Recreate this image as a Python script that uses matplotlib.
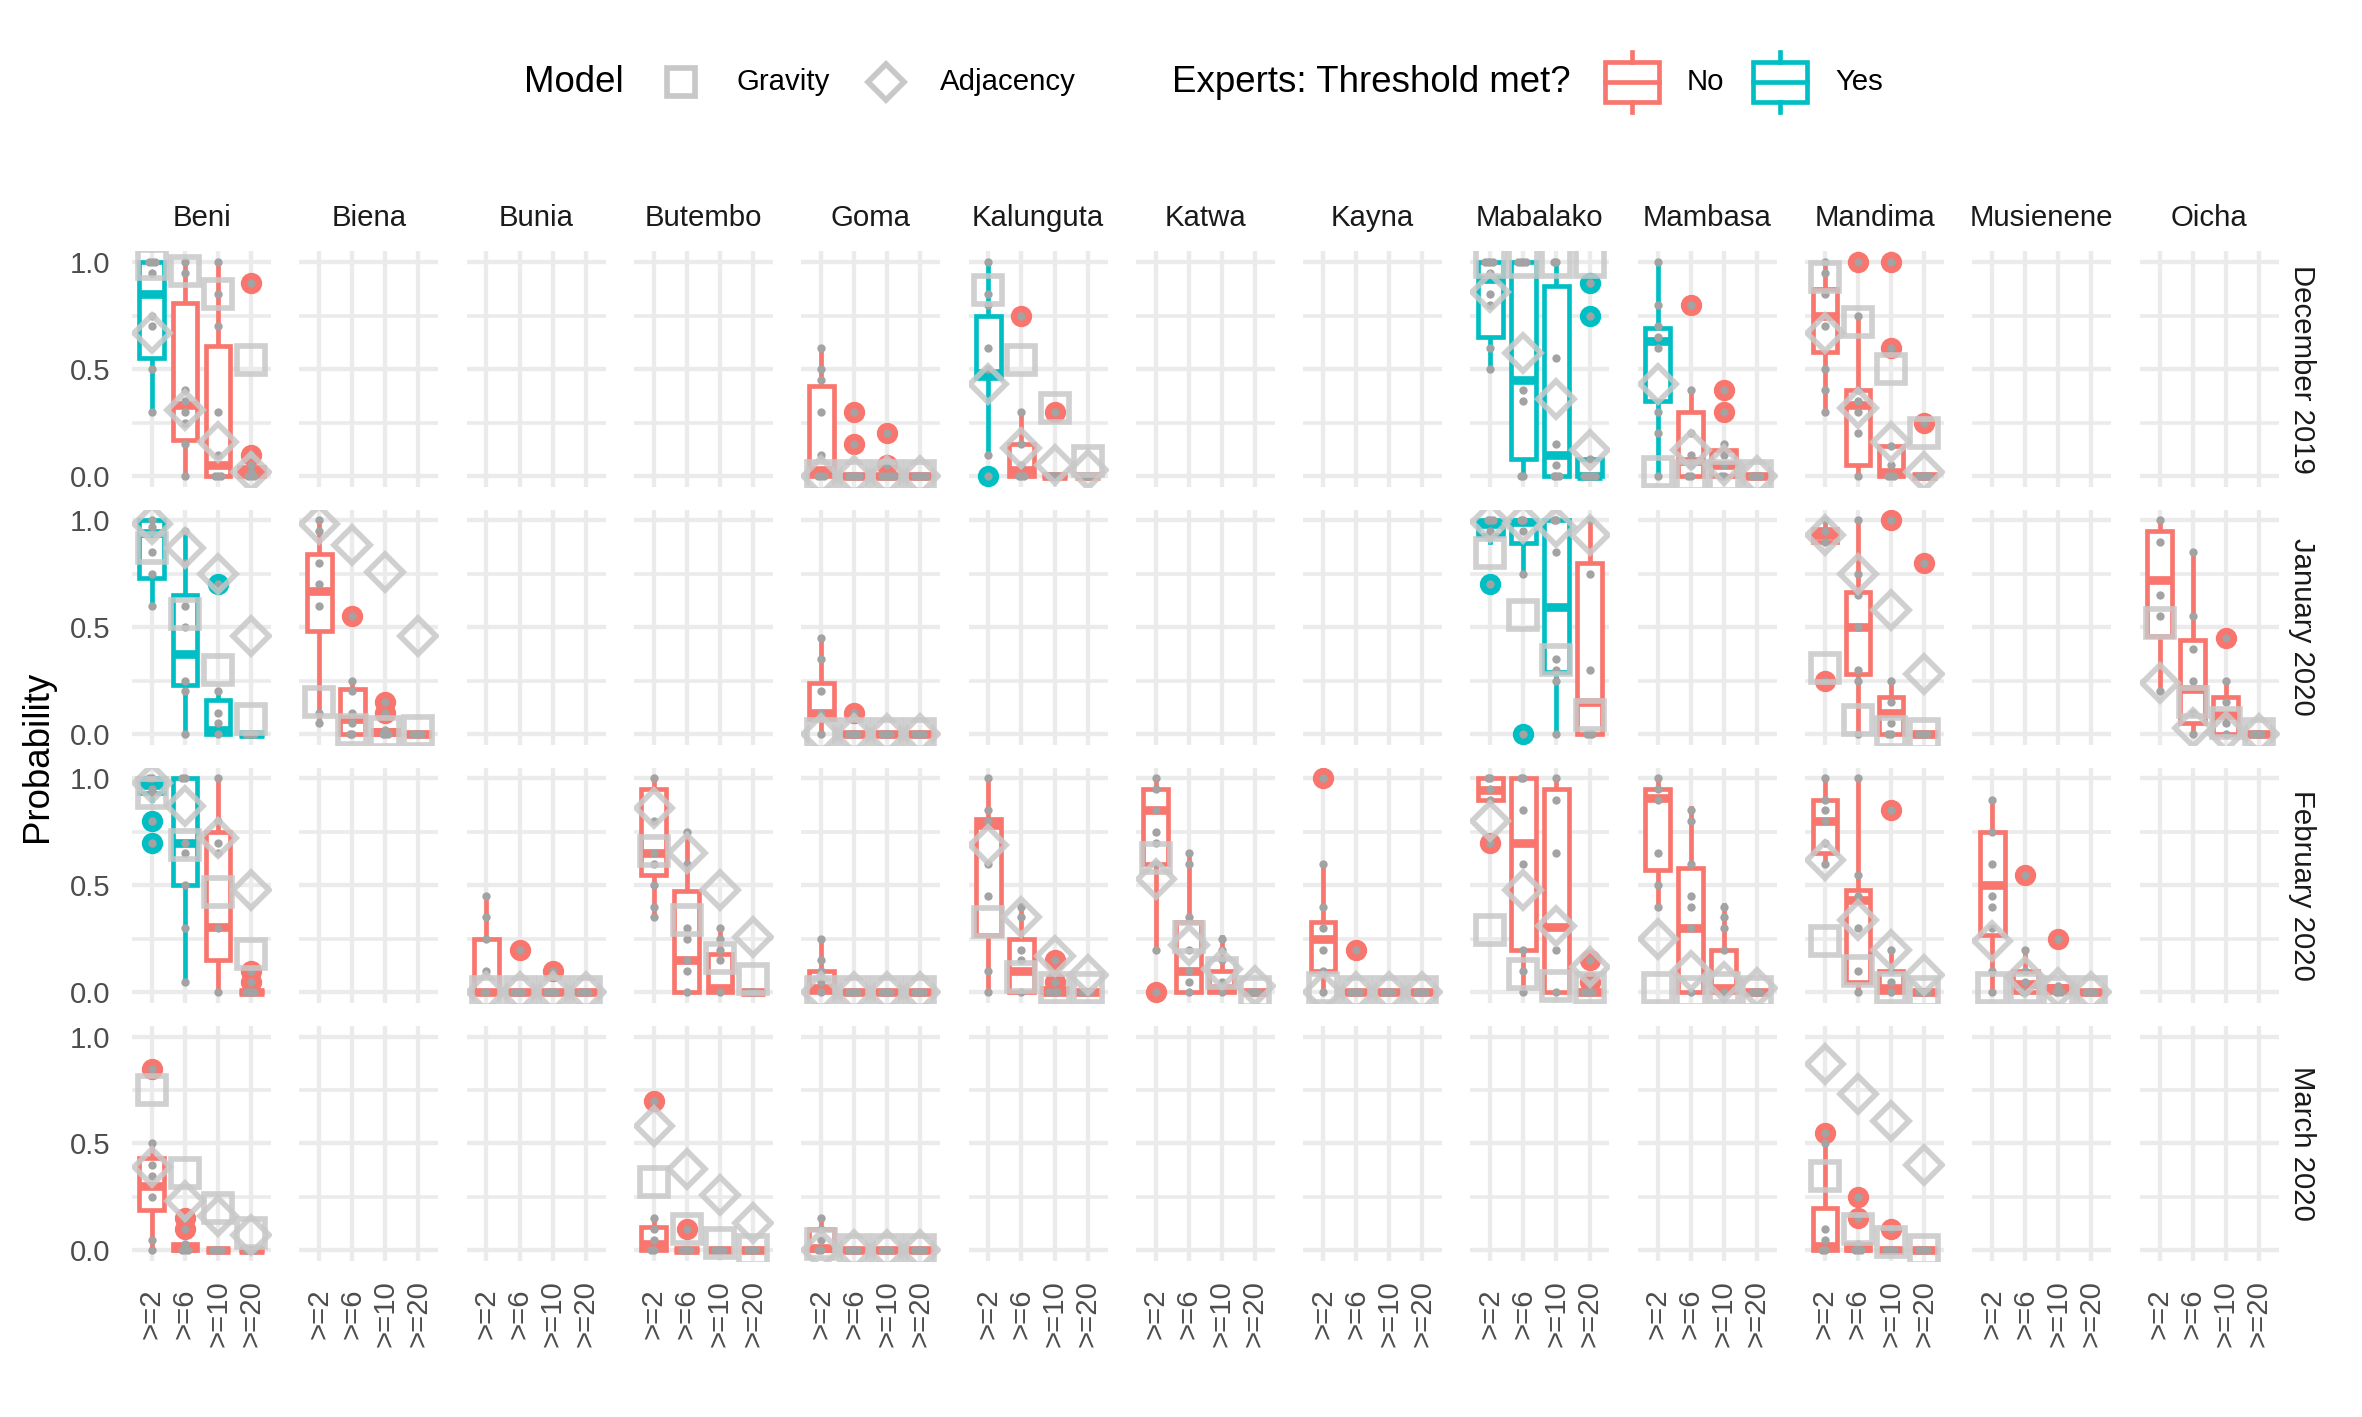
import matplotlib
matplotlib.use("Agg")
import matplotlib.pyplot as plt
from matplotlib.patches import Rectangle

plt.rcParams["font.family"] = ["Liberation Sans", "DejaVu Sans"]

months = ["December 2019", "January 2020", "February 2020", "March 2020"]
districts = ["Beni", "Biena", "Bunia", "Butembo", "Goma", "Kalunguta", "Katwa",
             "Kayna", "Mabalako", "Mambasa", "Mandima", "Musienene", "Oicha"]
thresholds = [">=2", ">=6", ">=10", ">=20"]

# expert boxes, one per threshold: (threshold met, whisker low, q1, median, q3, whisker high)
dec_boxes = {
    "Beni": [("Yes", 0.30, 0.55, 0.85, 1.00, 1.00), ("No", 0.00, 0.17, 0.33, 0.81, 1.00),
             ("No", 0.00, 0.00, 0.05, 0.61, 1.00), ("No", 0.00, 0.00, 0.02, 0.04, 0.05)],
    "Goma": [("No", 0.00, 0.00, 0.03, 0.42, 0.60), ("No", 0, 0, 0, 0, 0),
             ("No", 0, 0, 0, 0, 0), ("No", 0, 0, 0, 0, 0)],
    "Kalunguta": [("Yes", 0.10, 0.46, 0.48, 0.75, 1.00), ("No", 0.00, 0.00, 0.03, 0.15, 0.30),
                  ("No", 0, 0, 0, 0, 0), ("No", 0, 0, 0, 0, 0)],
    "Mabalako": [("Yes", 0.50, 0.65, 0.92, 1.00, 1.00), ("Yes", 0.00, 0.08, 0.45, 1.00, 1.00),
                 ("Yes", 0.00, 0.00, 0.10, 0.89, 1.00), ("Yes", 0.00, 0.00, 0.00, 0.08, 0.08)],
    "Mambasa": [("Yes", 0.00, 0.35, 0.63, 0.69, 1.00), ("No", 0.00, 0.00, 0.07, 0.30, 0.40),
                ("No", 0.00, 0.00, 0.05, 0.12, 0.15), ("No", 0, 0, 0, 0, 0)],
    "Mandima": [("No", 0.30, 0.58, 0.75, 0.875, 1.00), ("No", 0.00, 0.05, 0.33, 0.40, 0.75),
                ("No", 0.00, 0.00, 0.02, 0.14, 0.14), ("No", 0, 0, 0, 0, 0)],
}
dec_outliers = {
    "Beni": [[], [], [], [0.90, 0.10]],
    "Goma": [[], [0.30, 0.15], [0.20, 0.05], []],
    "Kalunguta": [[0.00], [0.75], [0.30], []],
    "Mabalako": [[], [], [], [0.90, 0.75]],
    "Mambasa": [[], [0.80], [0.40, 0.30], []],
    "Mandima": [[], [1.00], [1.00, 0.60], [0.25]],
}
dec_points = {
    "Beni": [[1.0, 1.0, 1.0, 0.95, 0.75, 0.70, 0.50, 0.30],
             [1.0, 0.95, 0.40, 0.35, 0.30, 0.25, 0.15, 0.0],
             [1.0, 0.85, 0.70, 0.30, 0.10, 0.0, 0.0, 0.0],
             [0.05, 0.02, 0.0, 0.0, 0.0]],
    "Goma": [[0.60, 0.50, 0.45, 0.30, 0.10, 0.0, 0.0, 0.0], [0, 0, 0, 0, 0], [0, 0, 0, 0, 0], [0, 0, 0, 0, 0]],
    "Kalunguta": [[1.0, 0.85, 0.80, 0.60, 0.50, 0.10], [0.30, 0.15, 0.05, 0, 0, 0], [0, 0, 0, 0], [0, 0, 0, 0]],
    "Mabalako": [[1, 1, 1, 1, 0.95, 0.85, 0.80, 0.60, 0.50], [1, 1, 1, 1, 0.40, 0.35, 0, 0],
                 [1, 1, 0.55, 0.15, 0.05, 0, 0, 0], [0.08, 0, 0, 0, 0, 0]],
    "Mambasa": [[1.0, 0.80, 0.70, 0.65, 0.60, 0.30, 0.20, 0.0], [0.40, 0.20, 0.10, 0.05, 0, 0],
                [0.15, 0.10, 0.05, 0, 0], [0, 0, 0, 0]],
    "Mandima": [[1.0, 0.95, 0.85, 0.70, 0.50, 0.40, 0.30], [0.75, 0.40, 0.35, 0.30, 0.20, 0.0],
                [0.14, 0.05, 0, 0, 0], [0, 0, 0, 0, 0]],
}
dec_gravity = {"Beni": [0.99, 0.96, 0.85, 0.54], "Goma": [0, 0, 0, 0],
               "Kalunguta": [0.87, 0.54, 0.32, 0.07], "Mabalako": [1.0, 1.0, 1.0, 1.0],
               "Mambasa": [0.02, 0.0, 0.0, 0.0], "Mandima": [0.93, 0.72, 0.50, 0.20]}
dec_adjacency = {"Beni": [0.67, 0.31, 0.16, 0.02], "Goma": [0, 0, 0, 0],
                 "Kalunguta": [0.43, 0.13, 0.05, 0.03], "Mabalako": [0.86, 0.575, 0.36, 0.12],
                 "Mambasa": [0.43, 0.12, 0.05, 0.0], "Mandima": [0.67, 0.32, 0.16, 0.02]}

jan_boxes = {
    "Beni": [("Yes", 0.60, 0.73, 0.94, 1.00, 1.00), ("Yes", 0.00, 0.23, 0.375, 0.65, 0.95),
             ("Yes", 0.00, 0.00, 0.02, 0.16, 0.20), ("Yes", 0, 0, 0, 0, 0)],
    "Biena": [("No", 0.05, 0.48, 0.67, 0.84, 1.00), ("No", 0.00, 0.00, 0.07, 0.21, 0.25),
              ("No", 0.00, 0.00, 0.01, 0.02, 0.02), ("No", 0, 0, 0, 0, 0)],
    "Goma": [("No", 0.00, 0.07, 0.10, 0.24, 0.45), ("No", 0, 0, 0, 0, 0),
             ("No", 0, 0, 0, 0, 0), ("No", 0, 0, 0, 0, 0)],
    "Mabalako": [("Yes", 0.90, 0.93, 0.98, 1.00, 1.00), ("Yes", 0.75, 0.895, 0.99, 1.00, 1.00),
                 ("Yes", 0.00, 0.29, 0.595, 1.00, 1.00), ("No", 0.00, 0.00, 0.15, 0.80, 1.00)],
    "Mandima": [("No", 0.90, 0.90, 0.93, 0.96, 1.00), ("No", 0.00, 0.28, 0.50, 0.665, 1.00),
                ("No", 0.00, 0.00, 0.10, 0.175, 0.25), ("No", 0, 0, 0, 0, 0)],
    "Oicha": [("No", 0.20, 0.46, 0.72, 0.95, 1.00), ("No", 0.00, 0.05, 0.21, 0.44, 0.85),
              ("No", 0.00, 0.00, 0.09, 0.175, 0.25), ("No", 0, 0, 0, 0, 0)],
}
jan_outliers = {
    "Beni": [[], [], [0.70], []],
    "Biena": [[], [0.55], [0.15, 0.10], []],
    "Goma": [[], [0.10], [], []],
    "Mabalako": [[0.70], [0.00], [], []],
    "Mandima": [[0.25], [], [1.00], [0.80]],
    "Oicha": [[], [], [0.45], []],
}
jan_points = {
    "Beni": [[1.0, 0.97, 0.85, 0.75, 0.60], [0.95, 0.80, 0.60, 0.50, 0.25, 0.20, 0.0],
             [0.20, 0.10, 0.05, 0.0], [0, 0, 0, 0]],
    "Biena": [[1.0, 0.95, 0.80, 0.70, 0.60, 0.10, 0.05], [0.25, 0.20, 0.10, 0.05, 0, 0],
              [0.02, 0, 0, 0], [0, 0, 0, 0]],
    "Goma": [[0.45, 0.35, 0.20, 0.10, 0.0], [0, 0, 0, 0], [0, 0, 0, 0], [0, 0, 0, 0]],
    "Mabalako": [[1, 1, 1, 0.95, 0.93], [1, 1, 0.95, 0.75], [1, 1, 0.85, 0.35, 0.30, 0.25, 0],
                 [1.0, 0.75, 0.30, 0, 0, 0]],
    "Mandima": [[1.0, 0.95, 0.90], [1.0, 0.75, 0.65, 0.50, 0.30, 0.25, 0.0],
                [0.25, 0.15, 0.05, 0, 0], [0, 0, 0, 0]],
    "Oicha": [[1.0, 0.90, 0.65, 0.55, 0.20], [0.85, 0.55, 0.40, 0.25, 0.10, 0.0],
              [0.25, 0.15, 0.05, 0], [0, 0, 0, 0]],
}
jan_gravity = {"Beni": [0.87, 0.56, 0.30, 0.07], "Biena": [0.15, 0.02, 0.01, 0.015],
               "Goma": [0, 0, 0, 0], "Mabalako": [0.845, 0.556, 0.345, 0.09],
               "Mandima": [0.31, 0.065, 0.01, 0.0], "Oicha": [0.52, 0.15, 0.05, 0.0]}
jan_adjacency = {"Beni": [0.98, 0.87, 0.75, 0.46], "Biena": [0.98, 0.885, 0.76, 0.46],
                 "Goma": [0, 0, 0, 0], "Mabalako": [0.99, 0.985, 0.97, 0.93],
                 "Mandima": [0.93, 0.75, 0.58, 0.28], "Oicha": [0.24, 0.03, 0.01, 0.0]}

feb_boxes = {
    "Beni": [("Yes", 0.90, 0.93, 0.97, 1.00, 1.00), ("Yes", 0.05, 0.50, 0.70, 1.00, 1.00),
             ("No", 0.00, 0.15, 0.305, 0.75, 1.00), ("No", 0, 0, 0, 0, 0)],
    "Bunia": [("No", 0.00, 0.00, 0.00, 0.25, 0.45), ("No", 0, 0, 0, 0, 0),
              ("No", 0, 0, 0, 0, 0), ("No", 0, 0, 0, 0, 0)],
    "Butembo": [("No", 0.35, 0.55, 0.65, 0.95, 1.00), ("No", 0.00, 0.00, 0.15, 0.475, 0.75),
                ("No", 0.00, 0.00, 0.02, 0.18, 0.30), ("No", 0, 0, 0, 0, 0)],
    "Goma": [("No", 0.00, 0.00, 0.02, 0.10, 0.25), ("No", 0, 0, 0, 0, 0),
             ("No", 0, 0, 0, 0, 0), ("No", 0, 0, 0, 0, 0)],
    "Kalunguta": [("No", 0.00, 0.27, 0.78, 0.81, 1.00), ("No", 0.00, 0.00, 0.10, 0.25, 0.41),
                  ("No", 0.00, 0.00, 0.00, 0.02, 0.02), ("No", 0, 0, 0, 0, 0)],
    "Katwa": [("No", 0.20, 0.60, 0.85, 0.95, 1.00), ("No", 0.00, 0.00, 0.10, 0.33, 0.65),
              ("No", 0.00, 0.00, 0.02, 0.10, 0.26), ("No", 0, 0, 0, 0, 0)],
    "Kayna": [("No", 0.00, 0.10, 0.25, 0.33, 0.60), ("No", 0, 0, 0, 0, 0),
              ("No", 0, 0, 0, 0, 0), ("No", 0, 0, 0, 0, 0)],
    "Mabalako": [("No", 0.90, 0.90, 0.945, 1.00, 1.00), ("No", 0.00, 0.20, 0.70, 1.00, 1.00),
                 ("No", 0.00, 0.00, 0.305, 0.95, 1.00), ("No", 0, 0, 0, 0, 0)],
    "Mambasa": [("No", 0.40, 0.57, 0.91, 0.95, 1.00), ("No", 0.00, 0.00, 0.30, 0.58, 0.86),
                ("No", 0.00, 0.00, 0.02, 0.20, 0.41), ("No", 0, 0, 0, 0, 0)],
    "Mandima": [("No", 0.60, 0.65, 0.80, 0.90, 1.00), ("No", 0.00, 0.05, 0.43, 0.48, 1.00),
                ("No", 0.00, 0.00, 0.02, 0.10, 0.20), ("No", 0, 0, 0, 0, 0)],
    "Musienene": [("No", 0.00, 0.27, 0.50, 0.75, 0.90), ("No", 0.00, 0.00, 0.04, 0.10, 0.20),
                  ("No", 0.00, 0.00, 0.02, 0.03, 0.03), ("No", 0, 0, 0, 0, 0)],
}
feb_outliers = {
    "Beni": [[0.80, 0.70], [], [], [0.10, 0.05]],
    "Bunia": [[], [0.20], [0.10], []],
    "Butembo": [[], [], [], []],
    "Goma": [[], [], [], []],
    "Kalunguta": [[], [], [0.15, 0.05], []],
    "Katwa": [[0.00], [], [], []],
    "Kayna": [[1.00], [0.20], [], []],
    "Mabalako": [[0.70], [], [], [0.15, 0.05]],
    "Mambasa": [[], [], [], []],
    "Mandima": [[], [], [0.85], []],
    "Musienene": [[], [0.55], [0.25], []],
}
feb_points = {
    "Beni": [[1, 1, 0.95, 0.93], [1, 1, 0.70, 0.65, 0.50, 0.30, 0.05],
             [1.0, 0.80, 0.70, 0.65, 0.30, 0.0], [0, 0, 0, 0]],
    "Bunia": [[0.45, 0.35, 0.25, 0.10, 0, 0], [0, 0, 0, 0], [0, 0, 0, 0], [0, 0, 0, 0]],
    "Butembo": [[1.0, 0.80, 0.65, 0.60, 0.50, 0.40, 0.35], [0.75, 0.60, 0.30, 0.25, 0.15, 0.10, 0.0],
                [0.30, 0.25, 0.20, 0.15, 0.0], [0, 0, 0, 0]],
    "Goma": [[0.25, 0.15, 0.10, 0.05, 0], [0, 0, 0, 0], [0, 0, 0, 0], [0, 0, 0, 0]],
    "Kalunguta": [[1.0, 0.85, 0.80, 0.60, 0.45, 0.10, 0.0], [0.40, 0.35, 0.20, 0.15, 0.0],
                  [0, 0, 0, 0], [0, 0, 0, 0]],
    "Katwa": [[1.0, 0.95, 0.85, 0.75, 0.70, 0.60, 0.20], [0.65, 0.60, 0.35, 0.20, 0.10, 0.05, 0.0],
              [0.25, 0.20, 0.15, 0.05, 0], [0, 0, 0, 0]],
    "Kayna": [[0.60, 0.40, 0.30, 0.20, 0.10, 0.0], [0, 0, 0, 0], [0, 0, 0, 0], [0, 0, 0, 0]],
    "Mabalako": [[1, 1, 0.95, 0.90], [1, 1, 0.85, 0.60, 0.20, 0.10, 0],
                 [1, 0.90, 0.65, 0.20, 0], [0, 0, 0, 0]],
    "Mambasa": [[1.0, 0.95, 0.90, 0.65, 0.50, 0.40], [0.85, 0.80, 0.60, 0.45, 0.40, 0.30, 0.0],
                [0.40, 0.35, 0.30, 0.20, 0.0], [0, 0, 0, 0]],
    "Mandima": [[1.0, 0.90, 0.85, 0.80, 0.70, 0.60], [1.0, 0.55, 0.45, 0.30, 0.10, 0.0],
                [0.20, 0.10, 0.05, 0], [0, 0, 0, 0]],
    "Musienene": [[0.90, 0.75, 0.60, 0.45, 0.40, 0.30, 0.10, 0.0], [0.20, 0.10, 0.05, 0, 0],
                  [0.03, 0, 0, 0], [0, 0, 0, 0]],
}
feb_gravity = {"Beni": [0.93, 0.69, 0.47, 0.18], "Bunia": [0, 0, 0, 0],
               "Butembo": [0.66, 0.34, 0.16, 0.06], "Goma": [0, 0, 0, 0],
               "Kalunguta": [0.33, 0.07, 0.02, 0.02], "Katwa": [0.63, 0.26, 0.09, 0.0],
               "Kayna": [0.02, 0, 0, 0], "Mabalako": [0.29, 0.085, 0.03, 0.02],
               "Mambasa": [0.02, 0.0, 0.02, 0.0], "Mandima": [0.24, 0.10, 0.02, 0.0],
               "Musienene": [0.02, 0.02, 0.0, 0.0]}
feb_adjacency = {"Beni": [0.98, 0.87, 0.72, 0.48], "Bunia": [0, 0, 0, 0],
                 "Butembo": [0.86, 0.65, 0.48, 0.26], "Goma": [0, 0, 0, 0],
                 "Kalunguta": [0.69, 0.35, 0.17, 0.08], "Katwa": [0.53, 0.22, 0.11, 0.03],
                 "Kayna": [0.0, 0, 0, 0], "Mabalako": [0.80, 0.48, 0.31, 0.12],
                 "Mambasa": [0.25, 0.10, 0.05, 0.02], "Mandima": [0.62, 0.34, 0.20, 0.08],
                 "Musienene": [0.24, 0.07, 0.02, 0.0]}

mar_boxes = {
    "Beni": [("No", 0.00, 0.19, 0.30, 0.43, 0.50), ("No", 0.00, 0.00, 0.01, 0.03, 0.03),
             ("No", 0, 0, 0, 0, 0), ("No", 0, 0, 0, 0, 0)],
    "Butembo": [("No", 0.00, 0.00, 0.03, 0.11, 0.15), ("No", 0, 0, 0, 0, 0),
                ("No", 0, 0, 0, 0, 0), ("No", 0, 0, 0, 0, 0)],
    "Goma": [("No", 0.00, 0.00, 0.01, 0.10, 0.15), ("No", 0, 0, 0, 0, 0),
             ("No", 0, 0, 0, 0, 0), ("No", 0, 0, 0, 0, 0)],
    "Mandima": [("No", 0.00, 0.00, 0.02, 0.20, 0.50), ("No", 0.00, 0.00, 0.01, 0.03, 0.03),
                ("No", 0, 0, 0, 0, 0), ("No", 0, 0, 0, 0, 0)],
}
mar_outliers = {
    "Beni": [[0.85], [0.15, 0.10], [], []],
    "Butembo": [[0.70], [0.10], [], []],
    "Goma": [[], [], [], []],
    "Mandima": [[0.55], [0.25, 0.15], [0.10], []],
}
mar_points = {
    "Beni": [[0.50, 0.40, 0.35, 0.25, 0.05, 0.0], [0.03, 0, 0, 0], [0, 0, 0, 0], [0, 0, 0, 0]],
    "Butembo": [[0.15, 0.10, 0.05, 0, 0], [0, 0, 0, 0], [0, 0, 0, 0], [0, 0, 0, 0]],
    "Goma": [[0.15, 0.10, 0.05, 0, 0], [0, 0, 0, 0], [0, 0, 0, 0], [0, 0, 0, 0]],
    "Mandima": [[0.50, 0.10, 0.05, 0, 0], [0.03, 0, 0, 0], [0, 0, 0, 0], [0, 0, 0, 0]],
}
mar_gravity = {"Beni": [0.75, 0.36, 0.20, 0.08], "Butembo": [0.32, 0.10, 0.035, 0.0],
               "Goma": [0.03, 0, 0, 0], "Mandima": [0.35, 0.10, 0.04, 0.0]}
mar_adjacency = {"Beni": [0.39, 0.23, 0.16, 0.07], "Butembo": [0.58, 0.38, 0.26, 0.13],
                 "Goma": [0, 0, 0, 0], "Mandima": [0.87, 0.73, 0.605, 0.40]}

month_tables = [
    (dec_boxes, dec_outliers, dec_points, dec_gravity, dec_adjacency),
    (jan_boxes, jan_outliers, jan_points, jan_gravity, jan_adjacency),
    (feb_boxes, feb_outliers, feb_points, feb_gravity, feb_adjacency),
    (mar_boxes, mar_outliers, mar_points, mar_gravity, mar_adjacency),
]

met_colors = {"No": "#F8766D", "Yes": "#00BFC4"}
model_gray = "#C8C8C8"
dot_gray = "#A3A3A3"
grid_col = "#EBEBEB"
text_col = "#4D4D4D"

W, H, DPI = 2362, 1417, 240
fig, axes = plt.subplots(4, 13, figsize=(W / DPI, H / DPI), dpi=DPI)
fig.subplots_adjust(left=0.0559, right=0.9647, top=0.8226, bottom=0.110,
                    wspace=0.204, hspace=0.097)

jit = [0.0, -0.08, 0.08, -0.16, 0.16, -0.24, 0.24]

for r, month in enumerate(months):
    boxes, outliers, points, gravity, adjacency = month_tables[r]
    for c, dist in enumerate(districts):
        ax = axes[r, c]
        ax.set_xlim(-0.6, 3.6)
        ax.set_ylim(-0.05, 1.05)
        ax.set_xticks(range(4))
        ax.set_xticklabels(thresholds)
        ax.set_yticks([0, 0.5, 1.0])
        ax.set_yticklabels(["0.0", "0.5", "1.0"])
        ax.set_yticks([0.25, 0.75], minor=True)
        ax.grid(True, which="major", color=grid_col, linewidth=1.3)
        ax.grid(True, which="minor", axis="y", color=grid_col, linewidth=1.1)
        ax.set_axisbelow(True)
        for s in ax.spines.values():
            s.set_visible(False)
        ax.tick_params(which="both", length=0, colors=text_col, labelsize=8.8)
        ax.tick_params(axis="y", pad=6.5)
        ax.tick_params(axis="x", pad=15.8, labelrotation=90)
        ax.tick_params(labelleft=(c == 0), labelbottom=(r == 3))
        for lab in ax.get_xticklabels():
            lab.set_va("center")
        if r == 0:
            ax.text(0.5, 1.14, dist, transform=ax.transAxes, ha="center", va="center",
                    fontsize=8.8, color="#1A1A1A")
        if c == 12:
            ax.text(1.168, 0.5, month, transform=ax.transAxes, ha="center", va="center",
                    rotation=-90, fontsize=8.8, color="#1A1A1A")

        if dist not in boxes:
            continue
        for i in range(4):
            met, lo, q1, med, q3, hi = boxes[dist][i]
            col = met_colors[met]
            stats = [{"whislo": lo, "q1": q1, "med": med, "q3": q3, "whishi": hi,
                      "fliers": outliers[dist][i]}]
            ax.bxp(stats, positions=[i], widths=0.75, showcaps=False, patch_artist=True,
                   manage_ticks=False,
                   boxprops=dict(facecolor="white", edgecolor=col, linewidth=1.4, zorder=2),
                   medianprops=dict(color=col, linewidth=2.6, solid_capstyle="butt", zorder=2.1),
                   whiskerprops=dict(color=col, linewidth=1.4, zorder=1.9),
                   flierprops=dict(marker="o", markerfacecolor=col, markeredgecolor=col,
                                   markersize=5.4, linestyle="none", zorder=2.2))
            # every expert answer as a small grey dot, spread when answers repeat
            vals = points[dist][i] + outliers[dist][i]
            seen = {}
            xs = []
            for v in vals:
                k = seen.get(v, 0)
                seen[v] = k + 1
                xs.append(i + jit[k % len(jit)])
            ax.plot(xs, vals, "o", color=dot_gray, markersize=2.5, markeredgewidth=0, zorder=3)
        ax.plot(range(4), gravity[dist], linestyle="none", marker="s", markersize=8.4,
                markerfacecolor="none", markeredgecolor=model_gray, markeredgewidth=1.7,
                alpha=0.85, zorder=4)
        ax.plot(range(4), adjacency[dist], linestyle="none", marker="D", markersize=7.8,
                markerfacecolor="none", markeredgecolor=model_gray, markeredgewidth=1.7,
                alpha=0.85, zorder=4)

fig.text(38 / W, 0.4665, "Probability", rotation=90, ha="center", va="center",
         fontsize=11, color="black")

# legend drawn in pixel coordinates across the top
leg = fig.add_axes([0, 0, 1, 1], zorder=-1)
leg.set_xlim(0, W)
leg.set_ylim(H, 0)
leg.axis("off")
ly = 82
leg.text(524, ly, "Model", fontsize=11, ha="left", va="center")
leg.plot([681], [ly], marker="s", markersize=8.4, markerfacecolor="none",
         markeredgecolor=model_gray, markeredgewidth=1.7)
leg.text(737, ly, "Gravity", fontsize=8.8, ha="left", va="center")
leg.plot([886], [ly], marker="D", markersize=7.8, markerfacecolor="none",
         markeredgecolor=model_gray, markeredgewidth=1.7)
leg.text(940, ly, "Adjacency", fontsize=8.8, ha="left", va="center")
leg.text(1172, ly, "Experts: Threshold met?", fontsize=11, ha="left", va="center")
for cx, key, tx in [(1632, "No", 1687), (1780, "Yes", 1835)]:
    col = met_colors[key]
    leg.add_patch(Rectangle((cx - 27, ly - 20), 54, 40, facecolor="white",
                            edgecolor=col, linewidth=1.4))
    leg.plot([cx - 27, cx + 27], [ly, ly], color=col, linewidth=1.4)
    leg.plot([cx, cx], [ly - 30, ly - 20], color=col, linewidth=1.4)
    leg.plot([cx, cx], [ly + 20, ly + 30], color=col, linewidth=1.4)
    leg.text(tx, ly, key, fontsize=8.8, ha="left", va="center")

fig.savefig("out.png", dpi=DPI)
